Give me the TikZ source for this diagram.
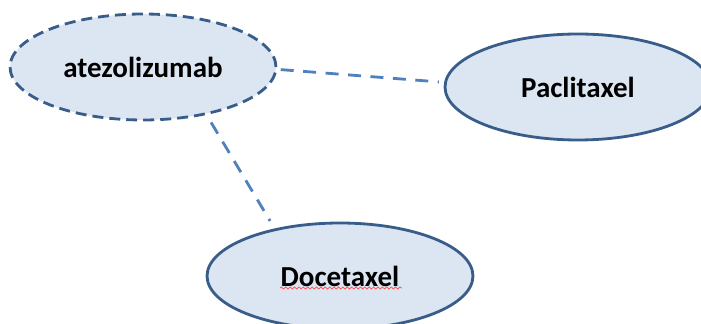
\documentclass[tikz,border=0pt]{standalone}
\usepackage{fontspec}
\setmainfont{Carlito}
\usetikzlibrary{shapes.geometric,decorations.pathmorphing}
\definecolor{bordo}{HTML}{385D8A}
\definecolor{riempi}{HTML}{DCE6F2}
\definecolor{linea}{HTML}{4F81BD}

\begin{document}
\begin{tikzpicture}[x=0.02cm, y=-0.02cm, every node/.style={font=\bfseries\fontsize{16.5}{19}\selectfont},
    farmaco/.style={ellipse, draw=bordo, fill=riempi, line width=1.6pt, minimum width=5.32cm, minimum height=2.12cm},
    incerto/.style={dash pattern=on 0.22cm off 0.12cm},
    legame/.style={draw=linea, line width=1.6pt, dash pattern=on 0.26cm off 0.19cm},
    spell/.style={red!70, line width=0.4pt, decorate, decoration={snake, amplitude=0.6pt, segment length=2.5pt}}]
        \path[use as bounding box, clip] (0,0) rectangle (701,324);

        % Farmaci
        \node[farmaco, incerto] (atezo) at (143,67) {atezolizumab};
        \node[farmaco] (pacli) at (578,87) {Paclitaxel};
        \node[farmaco] (doce) at (340,276) {Docetaxel};

        % Sottolineatura
        \draw[spell] (280,288) -- (402,288);

        % Legami
        \draw[legame, shorten <=2pt, shorten >=3pt] (atezo.-1) -- (pacli.178);
        \draw[legame, shorten <=5pt, shorten >=5pt] (atezo.-37) -- (doce.144);

    \end{tikzpicture}
\end{document}
